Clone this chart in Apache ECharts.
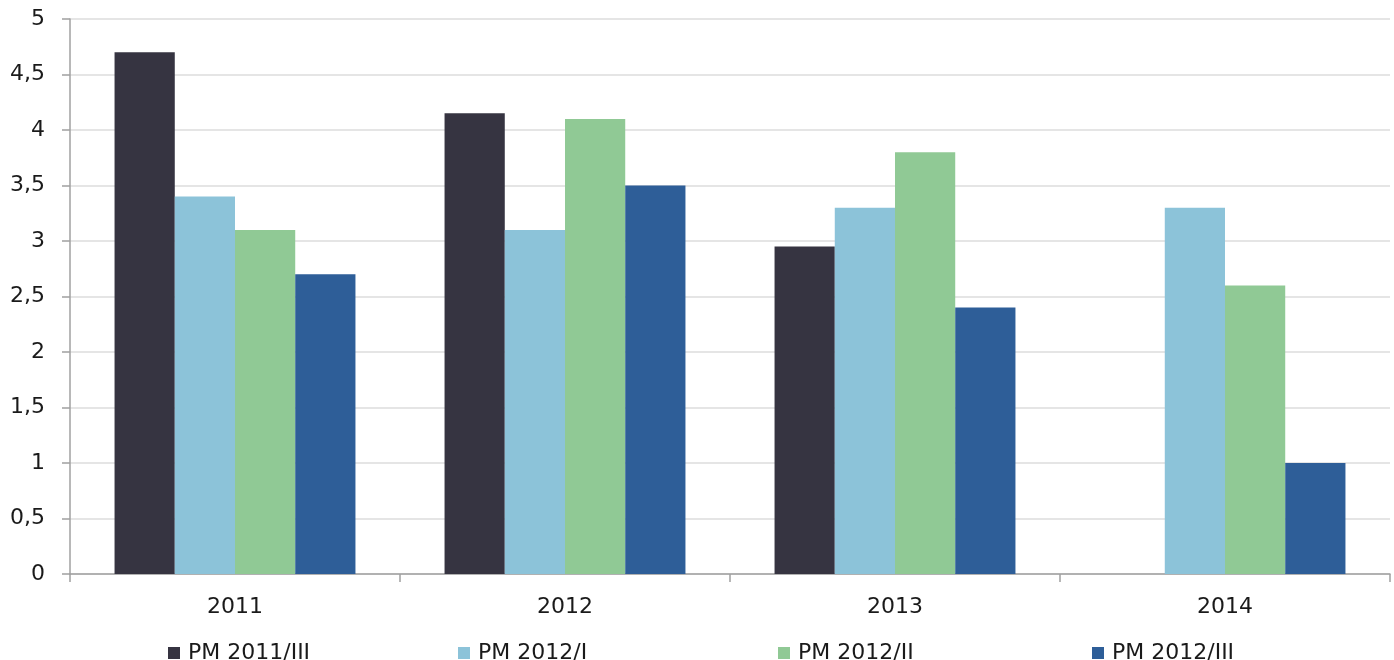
<!DOCTYPE html>
<html>
<head>
<meta charset="utf-8">
<script src="https://cdn.jsdelivr.net/npm/echarts@6/dist/echarts.min.js"></script>
<style>html,body{margin:0;padding:0;background:#fff}#c{width:1394px;height:660px}</style>
</head>
<body>
<div id="c"></div>
<script>
var categories = ['2011', '2012', '2013', '2014'];
var seriesNames = ['PM 2011/III', 'PM 2012/I', 'PM 2012/II', 'PM 2012/III'];
var pm2011_III = [4.7, 4.15, 2.95, null];
var pm2012_I = [3.4, 3.1, 3.3, 3.3];
var pm2012_II = [3.1, 4.1, 3.8, 2.6];
var pm2012_III = [2.7, 3.5, 2.4, 1.0];
var yTicks = { min: 0, max: 5, interval: 0.5 };

var colors = ['#363441', '#8cc3d9', '#90c995', '#2e5e98'];
var values = [pm2011_III, pm2012_I, pm2012_II, pm2012_III];
var font = 'DejaVu Sans';
var legendLefts = [163, 453, 773, 1087];

var chart = echarts.init(document.getElementById('c'));
chart.setOption({
  animation: false,
  backgroundColor: '#fff',
  textStyle: { fontFamily: font },
  grid: { left: 70, right: 4, top: 19, bottom: 86 },
  legend: seriesNames.map(function (n, i) {
    return {
      data: [n], left: legendLefts[i], top: 637,
      icon: 'rect', itemWidth: 12, itemHeight: 12, itemGap: 0,
      textStyle: { fontFamily: font, fontSize: 22, color: '#1a1a1a', padding: [0, 0, 0, 3] }
    };
  }),
  xAxis: {
    type: 'category', data: categories,
    axisLine: { lineStyle: { color: '#a0a0a0', width: 1.5 } },
    axisTick: { show: true, length: 8, lineStyle: { color: '#a0a0a0', width: 1.5 } },
    axisLabel: { fontFamily: font, fontSize: 22, color: '#1a1a1a', margin: 22 }
  },
  yAxis: {
    type: 'value', min: yTicks.min, max: yTicks.max, interval: yTicks.interval,
    axisLine: { show: true, lineStyle: { color: '#a0a0a0', width: 1.5 } },
    axisTick: { show: true, length: 8, lineStyle: { color: '#a0a0a0', width: 1.5 } },
    splitLine: { lineStyle: { color: '#dcdcdc', width: 1.5 } },
    axisLabel: {
      fontFamily: font, fontSize: 22, color: '#1a1a1a', margin: 25,
      formatter: function (v) { return String(v).replace('.', ','); }
    }
  },
  series: seriesNames.map(function (n, i) {
    return {
      name: n, type: 'bar', data: values[i],
      barGap: '0%', barCategoryGap: '27%',
      itemStyle: { color: colors[i] }
    };
  })
});
</script>
</body>
</html>
